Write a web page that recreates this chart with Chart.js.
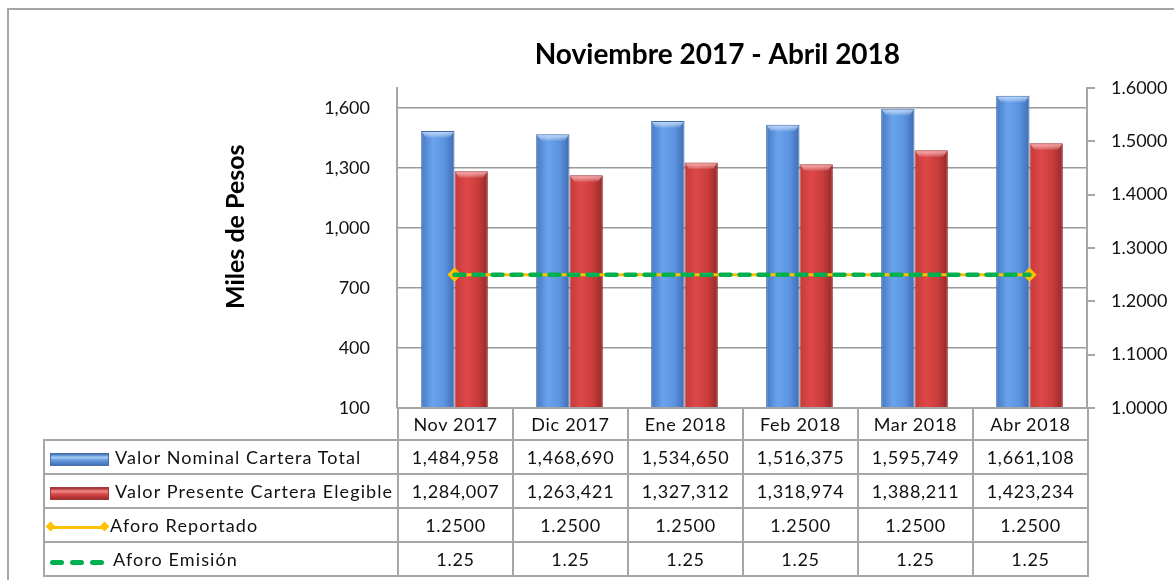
<!DOCTYPE html>
<html lang="es">
<head>
<meta charset="UTF-8">
<title>Noviembre 2017 - Abril 2018</title>
<script src="https://cdn.jsdelivr.net/npm/chart.js"></script>
<style>
    body { margin: 0; background: #fff; font-family: 'Lato', sans-serif; }
    #wrap { position: relative; width: 1174px; height: 580px; overflow: hidden; }
    #frame { position: absolute; left: 7px; top: 8px; width: 1200px; height: 600px;
             border-top: 2px solid #a6a6a6; border-left: 2px solid #a6a6a6; }
    canvas { position: absolute; left: 0; top: 0; }
    #tabla { position: absolute; border-collapse: collapse; table-layout: fixed;
             font-family: 'Lato', sans-serif; font-size: 18px; color: #111; }
    #tabla td { border: 2px solid #a6a6a6; text-align: center; padding: 0; letter-spacing: 0.7px; white-space: nowrap; }
    #tabla td.leg { text-align: left; letter-spacing: 1.1px; }
    #tabla td.empty { border: none; }
    .sw { display: inline-block; vertical-align: middle; width: 57px; height: 11px; margin: 0 6px 0 5px; position: relative; }
    .sw-blue { background: linear-gradient(#3a6bb5, #a6ccf4 30%, #6a9ee0 55%, #3f70ba); border: 1px solid #4a6fa8; }
    .sw-red { background: linear-gradient(#a02a2a, #f08a8a 30%, #d84a4a 55%, #a22a2a); border: 1px solid #a03a3a; }
    .sw-line { height: 11px; }
    .sw-line::before { content: ''; position: absolute; left: 2px; right: 2px; top: 4px; height: 3px; background: #ffc000; }
    .dia { position: absolute; top: 1px; width: 7px; height: 7px; background: #ffc000; transform: rotate(45deg); }
    .sw-dash { height: 11px; }
    .dash { position: absolute; top: 4px; width: 14px; height: 5px; border-radius: 3px; background: #00b050; }
</style>
</head>
<body>
<div id="wrap">
    <div id="frame"></div>
    <canvas id="grafica" width="1174" height="580"></canvas>
    <table id="tabla"></table>
</div>
<script>
    const categorias = ['Nov 2017', 'Dic 2017', 'Ene 2018', 'Feb 2018', 'Mar 2018', 'Abr 2018'];
    const valorNominal = [1484958, 1468690, 1534650, 1516375, 1595749, 1661108];
    const valorPresente = [1284007, 1263421, 1327312, 1318974, 1388211, 1423234];
    const aforoReportado = [1.25, 1.25, 1.25, 1.25, 1.25, 1.25];
    const aforoEmision = [1.25, 1.25, 1.25, 1.25, 1.25, 1.25];
    const ticksPesos = [100000, 400000, 700000, 1000000, 1300000, 1600000];
    const ticksAforo = [1.0, 1.1, 1.2, 1.3, 1.4, 1.5, 1.6];

    const CAT_PCT = 0.58;

    // horizontal gradient per bar, built from the category scale
    function barraGradiente(ctx, lado, colores) {
        const chart = ctx.chart;
        const xs = chart.scales.x;
        if (!chart.chartArea || !xs || ctx.dataIndex === undefined) return colores[1];
        const centro = xs.getPixelForValue(ctx.dataIndex);
        const ancho = (xs.width / categorias.length) * CAT_PCT / 2;
        const x0 = lado === 0 ? centro - ancho : centro;
        const g = chart.ctx.createLinearGradient(x0, 0, x0 + ancho, 0);
        g.addColorStop(0, colores[0]);
        g.addColorStop(0.35, colores[1]);
        g.addColorStop(0.7, colores[2]);
        g.addColorStop(1, colores[3]);
        return g;
    }

    const bisel = {
        id: 'bisel',
        afterDatasetsDraw(chart) {
            const c = chart.ctx;
            chart.data.datasets.forEach((ds, i) => {
                if (ds.type !== 'bar') return;
                const meta = chart.getDatasetMeta(i);
                meta.data.forEach(el => {
                    const l = el.x - el.width / 2, r = el.x + el.width / 2, t = el.y;
                    const g = c.createLinearGradient(0, t, 0, t + 7);
                    g.addColorStop(0, ds.biselColor);
                    g.addColorStop(1, 'rgba(255,255,255,0)');
                    c.save();
                    c.fillStyle = g;
                    c.beginPath();
                    c.moveTo(l + 1, t + 1);
                    c.lineTo(r - 1, t + 1);
                    c.lineTo(r - 5, t + 7);
                    c.lineTo(l + 5, t + 7);
                    c.closePath();
                    c.fill();
                    c.restore();
                });
            });
        }
    };

    const chart = new Chart(document.getElementById('grafica'), {
        data: {
            labels: categorias,
            datasets: [
                {
                    type: 'line', label: 'Aforo Emisión', data: aforoEmision, yAxisID: 'y1', order: 0,
                    borderColor: '#00b050', borderWidth: 4.5, borderDash: [10, 9], borderCapStyle: 'round',
                    pointRadius: 0, fill: false
                },
                {
                    type: 'line', label: 'Aforo Reportado', data: aforoReportado, yAxisID: 'y1', order: 1,
                    borderColor: '#ffc000', borderWidth: 3, fill: false,
                    pointStyle: 'rectRot', pointBackgroundColor: '#ffc000', pointBorderColor: '#ffc000',
                    pointRadius: ctx => (ctx.dataIndex === 0 || ctx.dataIndex === categorias.length - 1) ? 5 : 0
                },
                {
                    type: 'bar', label: 'Valor Nominal Cartera Total', data: valorNominal, yAxisID: 'y', order: 2,
                    backgroundColor: ctx => barraGradiente(ctx, 0, ['#4678c4', '#6aa4ec', '#5c93e0', '#3f6cb2']),
                    borderColor: '#3f6aa8', borderWidth: 1, biselColor: 'rgba(190,220,255,0.95)',
                    categoryPercentage: CAT_PCT, barPercentage: 1
                },
                {
                    type: 'bar', label: 'Valor Presente Cartera Elegible', data: valorPresente, yAxisID: 'y', order: 3,
                    backgroundColor: ctx => barraGradiente(ctx, 1, ['#c43a3a', '#de4848', '#ca3c3c', '#952828']),
                    borderColor: '#9a2b2b', borderWidth: 1, biselColor: 'rgba(255,170,170,0.95)',
                    categoryPercentage: CAT_PCT, barPercentage: 1
                }
            ]
        },
        options: {
            responsive: false,
            animation: false,
            layout: { padding: { left: 220, right: 0, top: 0, bottom: 172 } },
            plugins: {
                legend: { display: false },
                tooltip: { enabled: false },
                title: {
                    display: true,
                    text: '\u00a0'.repeat(6) + 'Noviembre 2017 - Abril 2018',
                    color: '#000',
                    font: { family: 'Lato', size: 28, weight: 'bold' },
                    padding: { top: 38, bottom: 16.4 }
                }
            },
            scales: {
                x: {
                    display: false,
                    offset: true
                },
                y: {
                    position: 'left',
                    min: 100000,
                    max: 1700000,
                    afterFit: s => { s.width = 177; },
                    afterBuildTicks: s => { s.ticks = ticksPesos.concat([1700000]).map(v => ({ value: v })); },
                    ticks: {
                        color: '#111',
                        padding: 27,
                        font: { family: 'Lato', size: 18 },
                        callback: v => ticksPesos.includes(v) ? (v / 1000).toLocaleString('en-US') : null
                    },
                    grid: { color: '#9a9a9a', lineWidth: 1.5, drawTicks: false },
                    border: { color: '#a6a6a6', width: 2 },
                    title: {
                        display: true,
                        text: '\u00a0'.repeat(7) + 'Miles de Pesos',
                        color: '#000',
                        font: { family: 'Lato', size: 25, weight: 'bold' },
                        padding: { top: 1, bottom: 4 }
                    }
                },
                y1: {
                    position: 'right',
                    min: 1.0,
                    max: 1.6,
                    afterFit: s => { s.width = 87; },
                    afterBuildTicks: s => { s.ticks = ticksAforo.map(v => ({ value: v })); },
                    ticks: {
                        color: '#111',
                        padding: 16,
                        font: { family: 'Lato', size: 18 },
                        callback: v => Number(v).toFixed(4)
                    },
                    grid: { drawOnChartArea: false, color: '#a6a6a6', lineWidth: 2, tickLength: 8 },
                    border: { color: '#a6a6a6', width: 2 }
                }
            }
        },
        plugins: [bisel]
    });

    // data table under the plot, aligned to the category scale
    function construirTabla() {
        const area = chart.chartArea;
        const xs = chart.scales.x;
        const colW = xs.width / categorias.length;
        const legW = area.left - 43;
        const tabla = document.getElementById('tabla');
        tabla.style.left = '43px';
        tabla.style.top = (area.bottom - 1) + 'px';
        tabla.style.width = (legW + colW * categorias.length) + 'px';

        const fmt = v => v.toLocaleString('en-US');
        let html = '<colgroup><col style="width:' + legW + 'px">';
        categorias.forEach(() => { html += '<col style="width:' + colW + 'px">'; });
        html += '</colgroup>';
        html += '<tr style="height:32px"><td class="empty"></td>' + categorias.map(c => '<td>' + c + '</td>').join('') + '</tr>';
        const filas = [
            ['<span class="sw sw-blue"></span>Valor Nominal Cartera Total', valorNominal.map(fmt)],
            ['<span class="sw sw-red"></span>Valor Presente Cartera Elegible', valorPresente.map(fmt)],
            ['<span class="sw sw-line" style="margin-left:2px;margin-right:2px;width:61px"><span class="dia" style="left:0"></span><span class="dia" style="right:0"></span></span>Aforo Reportado', aforoReportado.map(v => v.toFixed(4))],
            ['<span class="sw sw-dash"><span class="dash" style="left:0"></span><span class="dash" style="left:20px"></span><span class="dash" style="left:40px"></span></span>Aforo Emisión', aforoEmision.map(v => v.toFixed(2))]
        ];
        filas.forEach(f => {
            html += '<tr style="height:34px"><td class="leg">' + f[0] + '</td>' + f[1].map(v => '<td>' + v + '</td>').join('') + '</tr>';
        });
        tabla.innerHTML = html;
    }
    construirTabla();
</script>
</body>
</html>
